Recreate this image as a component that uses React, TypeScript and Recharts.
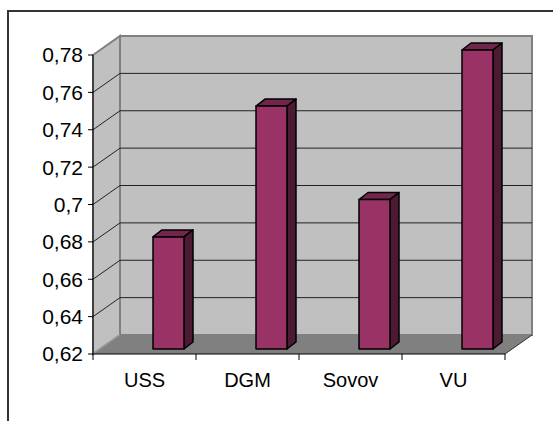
import React from 'react';
import { BarChart, Bar, XAxis, YAxis, ReferenceArea } from 'recharts';

const categories = ['USS', 'DGM', 'Sovov', 'VU'];
const values = [0.68, 0.75, 0.7, 0.78];
const yTicks = [0.62, 0.64, 0.66, 0.68, 0.7, 0.72, 0.74, 0.76, 0.78];

const data = categories.map((name, i) => ({ name, value: values[i] }));

const Y_MIN = yTicks[0];
const Y_MAX = yTicks[yTicks.length - 1];

const WALL_DX = 27;
const WALL_DY = -19;
const BAR_DX = 24;
const BAR_DY = -5;
const BAR_DEPTH_X = 9;
const BAR_DEPTH_Y = -7;

const FONT = '"Liberation Sans", Arial, sans-serif';

function Walls(props: any) {
  const { x, y, width, height } = props;
  if (x == null || y == null) return null;
  const bottom = y + height;
  const right = x + width;
  const yOf = (v: number) => y + (height * (Y_MAX - v)) / (Y_MAX - Y_MIN);
  const n = categories.length;
  const pts = (arr: number[][]) => arr.map((p) => p.join(',')).join(' ');
  return (
    <g>
      <polygon
        points={pts([
          [x, y],
          [x + WALL_DX, y + WALL_DY],
          [x + WALL_DX, bottom + WALL_DY],
          [x, bottom],
        ])}
        fill="#C0C0C0"
        stroke="#808080"
        strokeWidth={2}
      />
      <rect
        x={x + WALL_DX}
        y={y + WALL_DY}
        width={width}
        height={height}
        fill="#C0C0C0"
        stroke="#808080"
        strokeWidth={2}
      />
      {yTicks.slice(1, -1).map((t) => {
        const ty = yOf(t);
        return (
          <g key={t}>
            <line x1={x + WALL_DX} y1={ty + WALL_DY} x2={right + WALL_DX} y2={ty + WALL_DY} stroke="#222" strokeWidth={1} />
            <line x1={x} y1={ty} x2={x + WALL_DX} y2={ty + WALL_DY} stroke="#222" strokeWidth={1} />
          </g>
        );
      })}
      <polygon
        points={pts([
          [x, bottom],
          [right, bottom],
          [right + WALL_DX, bottom + WALL_DY],
          [x + WALL_DX, bottom + WALL_DY],
        ])}
        fill="#808080"
      />
      <line x1={x} y1={bottom} x2={x + WALL_DX} y2={bottom + WALL_DY} stroke="#A0A0A0" strokeWidth={1} />
      <line x1={right} y1={bottom} x2={right + WALL_DX} y2={bottom + WALL_DY} stroke="#333" strokeWidth={1} />
      {Array.from({ length: n + 1 }).map((_, i) => {
        const tx = x + (i * width) / n;
        return <line key={i} x1={tx} y1={bottom} x2={tx} y2={bottom + 6} stroke="#000" strokeWidth={1} />;
      })}
    </g>
  );
}

function Bar3D(props: any) {
  const { x, y, width, height } = props;
  if (x == null || y == null || !width) return null;
  const fx = x + BAR_DX;
  const fy = y + BAR_DY;
  const pts = (arr: number[][]) => arr.map((p) => p.join(',')).join(' ');
  return (
    <g stroke="#000" strokeWidth={1.5} strokeLinejoin="round">
      <polygon
        points={pts([
          [fx, fy],
          [fx + width, fy],
          [fx + width + BAR_DEPTH_X, fy + BAR_DEPTH_Y],
          [fx + BAR_DEPTH_X, fy + BAR_DEPTH_Y],
        ])}
        fill="#73264D"
      />
      <polygon
        points={pts([
          [fx + width, fy],
          [fx + width + BAR_DEPTH_X, fy + BAR_DEPTH_Y],
          [fx + width + BAR_DEPTH_X, fy + height + BAR_DEPTH_Y],
          [fx + width, fy + height],
        ])}
        fill="#4D1A33"
      />
      <rect x={fx} y={fy} width={width} height={height} fill="#993366" />
    </g>
  );
}

export default function App() {
  return (
    <div
      style={{
        position: 'absolute',
        left: 0,
        top: 0,
        width: 553,
        height: 421,
        overflow: 'hidden',
        background: '#fff',
      }}
    >
      <div
        style={{
          position: 'absolute',
          left: 7,
          top: 10,
          width: 600,
          height: 500,
          border: '2px solid #333',
          boxSizing: 'border-box',
        }}
      />
      <div style={{ position: 'absolute', left: 0, top: 0 }}>
        <BarChart
          width={553}
          height={421}
          data={data}
          margin={{ top: 55, right: 48, bottom: 37, left: 0 }}
          barCategoryGap={0}
        >
          <ReferenceArea y1={Y_MIN} y2={Y_MAX} ifOverflow="visible" shape={<Walls />} />
          <XAxis
            dataKey="name"
            height={30}
            tickLine={false}
            tickSize={6}
            tickMargin={13}
            axisLine={{ stroke: '#000', strokeWidth: 1 }}
            tick={{ fill: '#000', fontSize: 20, fontFamily: FONT }}
            interval={0}
          />
          <YAxis
            width={93}
            domain={[Y_MIN, Y_MAX]}
            ticks={yTicks}
            interval={0}
            tickSize={5}
            tickMargin={5}
            tickFormatter={(v: number) => String(v).replace('.', ',')}
            axisLine={{ stroke: '#000', strokeWidth: 1 }}
            tickLine={{ stroke: '#000', strokeWidth: 1 }}
            tick={{ fill: '#000', fontSize: 21, fontFamily: FONT }}
          />
          <Bar dataKey="value" barSize={31} isAnimationActive={false} shape={<Bar3D />} />
        </BarChart>
      </div>
    </div>
  );
}
